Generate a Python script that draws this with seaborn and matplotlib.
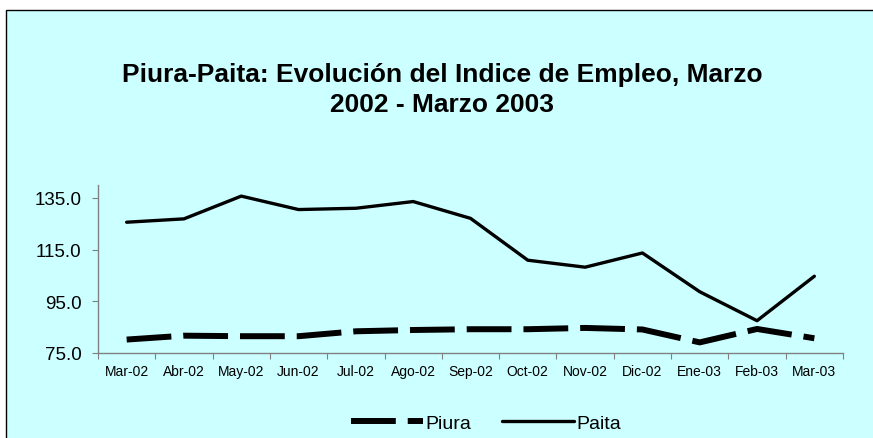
import matplotlib
matplotlib.use("Agg")
import matplotlib.pyplot as plt
import matplotlib.patches as mpatches
import numpy as np
import pandas as pd
import seaborn as sns

# data
meses = ["Mar-02", "Abr-02", "May-02", "Jun-02", "Jul-02", "Ago-02", "Sep-02",
         "Oct-02", "Nov-02", "Dic-02", "Ene-03", "Feb-03", "Mar-03"]
piura = [80.2, 81.7, 81.5, 81.5, 83.4, 83.9, 84.2, 84.2, 84.7, 84.1, 79.1, 84.3, 80.7]
paita = [125.6, 126.9, 135.7, 130.5, 131.0, 133.6, 127.1, 110.9, 108.2, 113.7, 98.7, 87.5, 104.7]
yticks = [75, 95, 115, 135]

df = pd.DataFrame({"mes": meses, "Piura": piura, "Paita": paita})

bg = "#CCFFFF"
sns.set_style("white", {"axes.facecolor": bg, "text.color": "black",
                        "xtick.color": "black", "ytick.color": "black"})
plt.rcParams["font.family"] = ["Liberation Sans", "DejaVu Sans"]

fig = plt.figure(figsize=(8.73, 4.39), dpi=100)
fig.patch.set_facecolor("white")

# chart area frame (Excel style box)
frame = mpatches.Rectangle((6 / 873, -0.1), 1.1, 1.1 - 11 / 439,
                           transform=fig.transFigure, facecolor=bg,
                           edgecolor="black", linewidth=1.0, zorder=-10)
fig.patches.append(frame)

ax = fig.add_axes([98 / 873, 1 - 354 / 439, (843 - 98) / 873, (354 - 186) / 439])
ax.set_facecolor(bg)

sns.lineplot(data=df, x="mes", y="Piura", ax=ax, color="black", linewidth=4.3,
             linestyle=(0, (7.5, 2)), label="Piura", sort=False)
sns.lineplot(data=df, x="mes", y="Paita", ax=ax, color="black", linewidth=2.4,
             label="Paita", sort=False)

ax.set_xlim(-0.5, len(meses) - 0.5)
ax.set_ylim(75, 140)
ax.set_yticks(yticks)
ax.set_yticklabels([f"{v:.1f}" for v in yticks], fontsize=13.5, color="black")

# tick marks between categories, labels centred on categories
ax.set_xticks(np.arange(-0.5, len(meses), 1))
ax.set_xticklabels([])
ax.set_xticks(np.arange(len(meses)), minor=True)
ax.set_xticklabels(meses, minor=True, fontsize=10, color="black")
ax.tick_params(axis="x", which="major", length=4, direction="out",
               color="#808080", bottom=True)
ax.tick_params(axis="x", which="minor", length=0, pad=8)
ax.tick_params(axis="y", length=4, direction="out", color="#808080",
               left=True, pad=8)

for s in ["top", "right"]:
    ax.spines[s].set_visible(False)
for s in ["left", "bottom"]:
    ax.spines[s].set_color("#808080")
    ax.spines[s].set_linewidth(1.0)

ax.set_xlabel("")
ax.set_ylabel("")

handles, labels = ax.get_legend_handles_labels()
ax.get_legend().remove()
leg = fig.legend(handles, labels, loc="center",
                 bbox_to_anchor=(486 / 873, 1 - 424 / 439),
                 ncol=2, frameon=False, fontsize=14, handlelength=3.7,
                 handletextpad=0.1, columnspacing=1.6)
for t in leg.get_texts():
    t.set_color("black")

fig.text(442 / 873, 1 - 90 / 439,
         "Piura-Paita: Evolución del Indice de Empleo, Marzo\n2002 - Marzo 2003",
         ha="center", va="center", fontsize=19, fontweight="bold",
         color="black", linespacing=1.3)

fig.savefig("out.png", dpi=100, facecolor=fig.get_facecolor())
